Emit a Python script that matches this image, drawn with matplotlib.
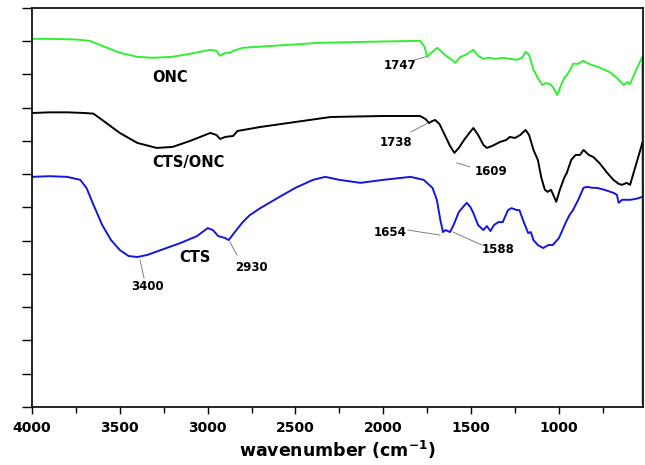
import matplotlib.pyplot as plt

plt.rcParams["font.family"] = ["DejaVu Sans"]
plt.rcParams["font.weight"] = "bold"

# ONC spectrum (wavenumber, offset transmittance)
onc_wn = [4000, 3900, 3750, 3670, 3600, 3500, 3400, 3310, 3200, 3100, 2985, 2950, 2930,
          2900, 2870, 2855, 2800, 2600, 2360, 2100, 1790, 1765, 1750, 1720, 1692, 1650,
          1610, 1590, 1560, 1530, 1487, 1460, 1430, 1400, 1360, 1320, 1280, 1240, 1210,
          1190, 1170, 1145, 1120, 1095, 1075, 1050, 1030, 1010, 990, 970, 955, 935, 920,
          890, 862, 830, 800, 780, 740, 705, 670, 630, 610, 595, 560, 525, 524]
onc_t = [11.07, 11.07, 11.05, 11.01, 10.86, 10.65, 10.53, 10.50, 10.53, 10.62, 10.74, 10.71, 10.56,
         10.65, 10.65, 10.71, 10.80, 10.87, 10.95, 10.98, 11.01, 10.83, 10.53, 10.68, 10.80, 10.59,
         10.44, 10.35, 10.53, 10.59, 10.74, 10.56, 10.47, 10.50, 10.47, 10.50, 10.47, 10.44, 10.50,
         10.68, 10.59, 10.14, 9.89, 9.68, 9.74, 9.71, 9.59, 9.38, 9.65, 9.89, 9.98, 10.14, 10.32,
         10.32, 10.41, 10.32, 10.26, 10.23, 10.14, 10.05, 9.89, 9.68, 9.77, 9.71, 10.14, 10.53, 0.12]

# CTS/ONC spectrum
cts_onc_wn = [4000, 3900, 3800, 3700, 3650, 3600, 3500, 3400, 3290, 3200, 3100, 2985, 2950,
              2930, 2900, 2855, 2830, 2700, 2500, 2300, 2000, 1790, 1760, 1740, 1720, 1705,
              1680, 1650, 1620, 1595, 1570, 1540, 1510, 1487, 1460, 1430, 1410, 1380, 1335,
              1300, 1280, 1250, 1220, 1190, 1170, 1145, 1120, 1100, 1080, 1065, 1045, 1015,
              995, 970, 955, 930, 905, 880, 860, 830, 805, 770, 725, 690, 660, 640, 615, 595,
              570, 545, 525]
cts_onc_t = [8.84, 8.86, 8.86, 8.84, 8.82, 8.63, 8.24, 7.94, 7.79, 7.82, 8.00, 8.24, 8.18,
             8.06, 8.12, 8.15, 8.30, 8.42, 8.57, 8.72, 8.75, 8.75, 8.66, 8.54, 8.60, 8.63,
             8.51, 8.18, 7.85, 7.64, 7.79, 8.03, 8.24, 8.39, 8.18, 7.88, 7.79, 7.85, 7.97,
             8.03, 8.12, 8.09, 8.18, 8.33, 8.18, 7.73, 7.43, 6.89, 6.53, 6.47, 6.53, 6.17,
             6.53, 6.89, 7.04, 7.43, 7.58, 7.58, 7.73, 7.58, 7.52, 7.34, 7.04, 6.83, 6.71, 6.68,
             6.74, 6.68, 7.13, 7.58, 7.94]

# CTS spectrum
cts_wn = [4000, 3900, 3800, 3725, 3690, 3650, 3600, 3550, 3500, 3450, 3400, 3345, 3250,
          3155, 3060, 3000, 2970, 2940, 2900, 2880, 2850, 2800, 2760, 2700, 2600, 2500,
          2400, 2330, 2250, 2130, 2000, 1845, 1770, 1720, 1695, 1675, 1660, 1645, 1620,
          1600, 1570, 1545, 1525, 1505, 1487, 1460, 1430, 1410, 1390, 1370, 1345, 1320,
          1290, 1270, 1240, 1225, 1200, 1175, 1160, 1145, 1120, 1090, 1060, 1035, 1000,
          980, 960, 940, 920, 890, 860, 840, 810, 785, 740, 690, 670, 660, 640, 595, 560, 525]
cts_t = [6.92, 6.94, 6.92, 6.83, 6.59, 6.08, 5.47, 5.02, 4.72, 4.54, 4.51, 4.57, 4.75,
         4.93, 5.14, 5.38, 5.32, 5.14, 5.08, 5.02, 5.23, 5.56, 5.77, 5.98, 6.29, 6.59,
         6.83, 6.92, 6.83, 6.74, 6.83, 6.92, 6.83, 6.59, 6.23, 5.62, 5.26, 5.32, 5.26,
         5.47, 5.86, 6.02, 6.14, 6.02, 5.83, 5.47, 5.32, 5.44, 5.29, 5.47, 5.56, 5.56,
         5.92, 5.98, 5.92, 5.92, 5.56, 5.23, 5.26, 5.02, 4.87, 4.78, 4.87, 4.87, 5.08,
         5.32, 5.56, 5.77, 5.92, 6.23, 6.59, 6.62, 6.59, 6.59, 6.53, 6.44, 6.38, 6.14, 6.23,
         6.23, 6.26, 6.32]

# sample names and peak annotations: (text, text pos, leader start, leader end)
names = ["ONC", "CTS/ONC", "CTS"]
name_pos = [(3215, 9.92), (3110, 7.34), (3072, 4.51)]
peaks = ["3400", "2930", "1747", "1738", "1609", "1654", "1588"]
peak_text = [(3340, 3.61), (2748, 4.18), (1905, 10.26), (1928, 7.94), (1387, 7.07), (1962, 5.26), (1347, 4.75)]
peak_line = [((3362, 3.88), (3385, 4.42)),
             ((2833, 4.57), (2873, 4.96)),
             ((1820, 10.44), (1757, 10.53)),
             ((1843, 8.27), (1746, 8.54)),
             ((1581, 7.34), (1507, 7.22)),
             ((1860, 5.32), (1678, 5.17)),
             ((1438, 4.87), (1603, 5.26))]

fig, ax = plt.subplots(figsize=(6.45, 4.65), dpi=100)
fig.subplots_adjust(left=0.0496, right=0.997, bottom=0.1247, top=0.983)

ax.plot(onc_wn, onc_t, color="#33ee33", lw=1.4)
ax.plot(cts_onc_wn, cts_onc_t, color="black", lw=1.4)
ax.plot(cts_wn, cts_t, color="#1515e0", lw=1.4)

for name, (x, y) in zip(names, name_pos):
    ax.text(x, y, name, fontsize=10.5, fontweight="bold", ha="center", va="center")

for label, (x, y), (p0, p1) in zip(peaks, peak_text, peak_line):
    ax.text(x, y, label, fontsize=8.5, fontweight="bold", ha="center", va="center")
    ax.plot([p0[0], p1[0]], [p0[1], p1[1]], color="gray", lw=0.7)

ax.set_xlim(4000, 521)
ax.set_ylim(0, 12)
ax.set_xticks([4000, 3500, 3000, 2500, 2000, 1500, 1000])
ax.set_xticks([3750, 3250, 2750, 2250, 1750, 1250, 750], minor=True)
ax.set_yticks(range(0, 13))
ax.set_yticklabels([])
ax.tick_params(axis="x", which="major", direction="out", length=5, width=1, pad=5, labelsize=10)
ax.tick_params(axis="x", which="minor", direction="out", length=4, width=1)
ax.tick_params(axis="y", direction="out", length=7, width=1)
for s in ax.spines.values():
    s.set_linewidth(1.2)

ax.set_xlabel("wavenumber (cm$^{\\mathbf{-1}}$)", fontsize=12.5, fontweight="bold", labelpad=3)

plt.savefig("out.png", dpi=100)
